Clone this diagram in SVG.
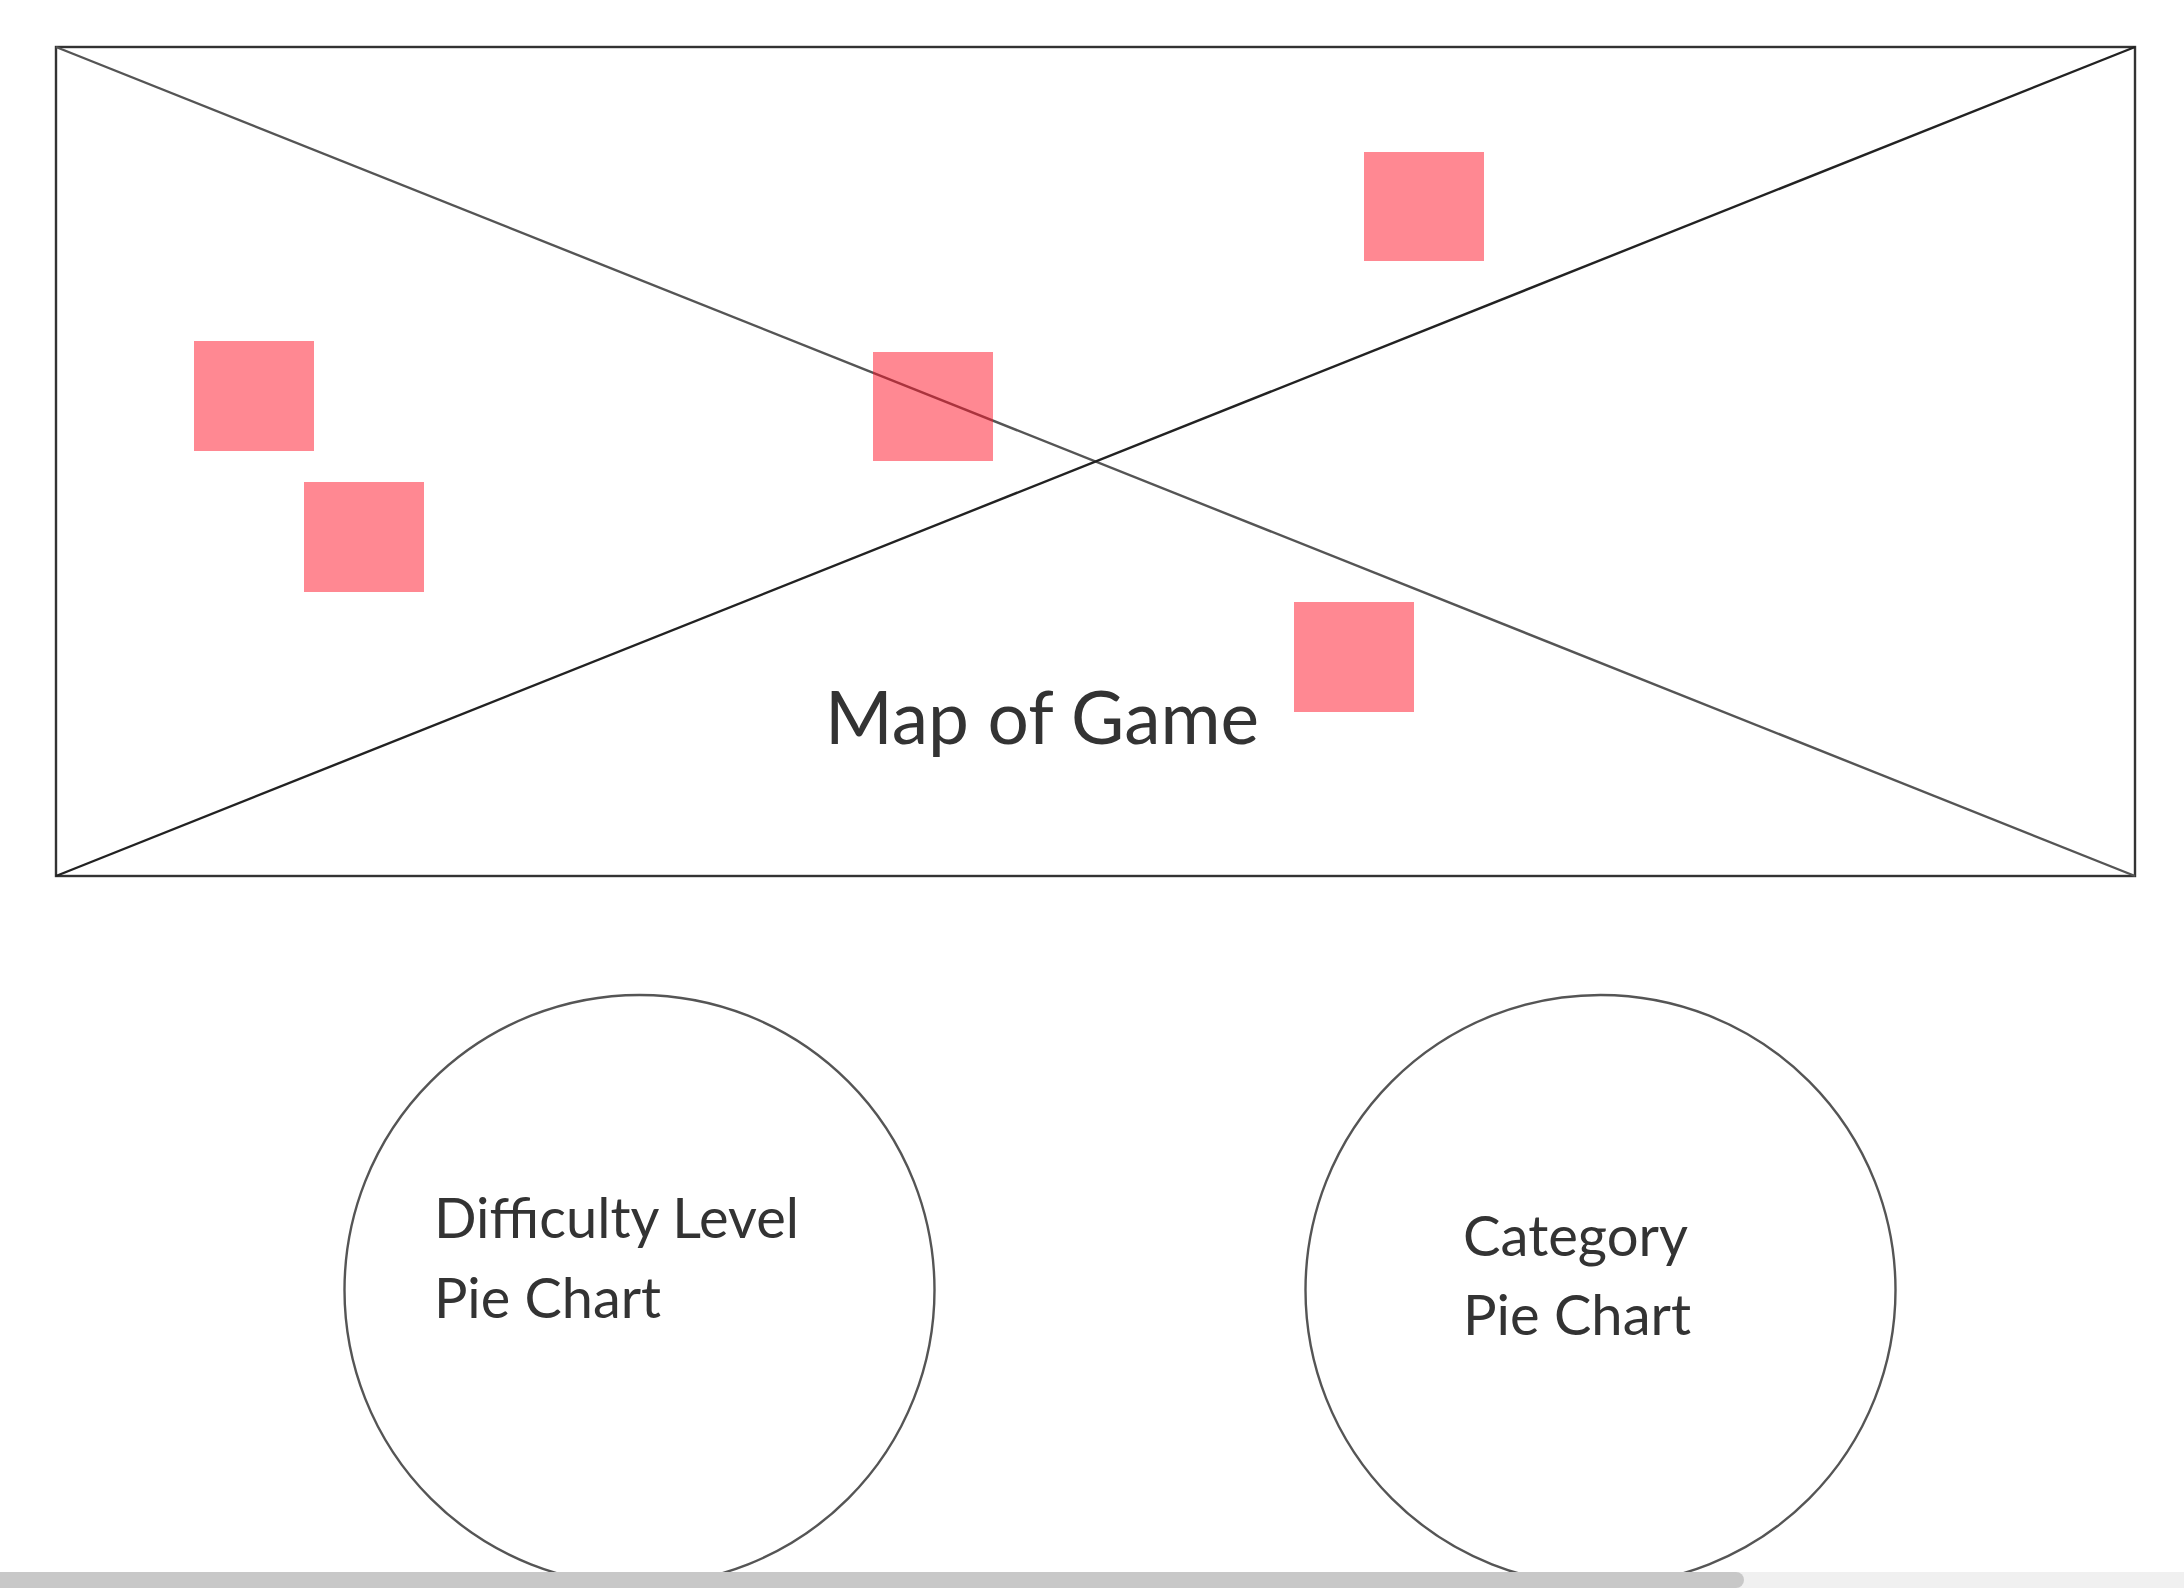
<svg xmlns="http://www.w3.org/2000/svg" width="2184" height="1588" viewBox="0 0 2184 1588">
<style>
.txt{font-family:Lato,"Source Sans Pro","Noto Sans",sans-serif;fill:#333333;}
.pin{fill:#FF1226;fill-opacity:0.5;}
.circ{fill:none;stroke:#555555;stroke-width:2.4;}
</style>
<rect x="0" y="0" width="2184" height="1588" fill="#ffffff"/>
<g id="map">
<rect x="56" y="47" width="2079" height="829" fill="#ffffff" stroke="#333333" stroke-width="2.4"/>
<line x1="56" y1="47" x2="2135" y2="876" stroke="#555555" stroke-width="2.4"/>
<line x1="56" y1="876" x2="2135" y2="47" stroke="#222222" stroke-width="2.4"/>
<text class="txt" x="825" y="744" font-size="73" textLength="434" lengthAdjust="spacingAndGlyphs">Map of Game</text>
</g>
<g id="pins">
<rect id="pin1" class="pin" x="194" y="341" width="120" height="110"/>
<rect id="pin2" class="pin" x="304" y="482" width="120" height="110"/>
<rect id="pin3" class="pin" x="873" y="352" width="120" height="109"/>
<rect id="pin4" class="pin" x="1364" y="152" width="120" height="109"/>
<rect id="pin5" class="pin" x="1294" y="602" width="120" height="110"/>
</g>
<g id="difficulty-pie">
<circle class="circ" cx="639.5" cy="1290" r="295"/>
<text class="txt" x="434" y="1238" font-size="57" textLength="365" lengthAdjust="spacingAndGlyphs">Difficulty Level</text>
<text class="txt" x="434" y="1318" font-size="57" textLength="227" lengthAdjust="spacingAndGlyphs">Pie Chart</text>
</g>
<g id="category-pie">
<circle class="circ" cx="1600.5" cy="1290" r="295"/>
<text class="txt" x="1463" y="1256" font-size="57" textLength="225" lengthAdjust="spacingAndGlyphs">Category</text>
<text class="txt" x="1463" y="1335" font-size="57" textLength="228" lengthAdjust="spacingAndGlyphs">Pie Chart</text>
</g>
<g id="connectors"></g>
<g id="scrollbar">
<rect x="0" y="1572" width="2184" height="16" fill="#f0f0f0"/>
<rect x="-10" y="1572" width="1754" height="16" rx="8" fill="#c8c8c8"/>
</g>
</svg>
